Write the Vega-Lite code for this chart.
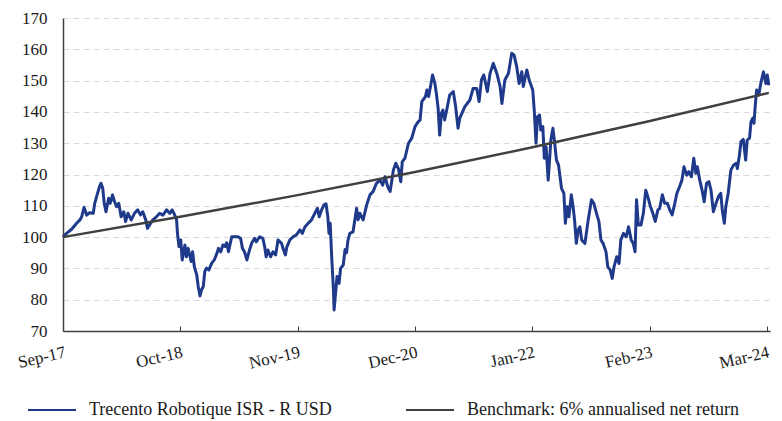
{
  "$schema": "https://vega.github.io/schema/vega-lite/v6.json",
  "width": 707,
  "height": 313,
  "autosize": {"type": "none"},
  "padding": {"left": 63, "top": 18, "right": 12, "bottom": 90},
  "background": "white",
  "config": {
    "view": {"stroke": null},
    "font": "Liberation Serif",
    "axis": {"labelFont": "Liberation Serif", "labelColor": "#1a1a1a", "labelFontSize": 17},
    "legend": {"labelFont": "Liberation Serif", "labelColor": "#1a1a1a", "labelFontSize": 18}
  },
  "datasets": {
    "fund": [
      {"date":"2017-09-01","value":100},{"date":"2017-09-13","value":101.2},{"date":"2017-09-30","value":102.5},
      {"date":"2017-10-17","value":104.4},{"date":"2017-10-28","value":105.5},{"date":"2017-11-03","value":106.5},
      {"date":"2017-11-11","value":109.5},{"date":"2017-11-20","value":107},{"date":"2017-11-30","value":107.8},
      {"date":"2017-12-12","value":107.6},{"date":"2017-12-17","value":110.8},{"date":"2017-12-25","value":113.5},
      {"date":"2018-01-02","value":116.1},{"date":"2018-01-07","value":117.2},{"date":"2018-01-13","value":115.6},
      {"date":"2018-01-18","value":110.8},{"date":"2018-01-24","value":108.1},{"date":"2018-02-02","value":112.4},
      {"date":"2018-02-07","value":110.8},{"date":"2018-02-15","value":113.5},{"date":"2018-02-22","value":111.3},
      {"date":"2018-03-01","value":109.7},{"date":"2018-03-08","value":110.8},{"date":"2018-03-16","value":106.5},
      {"date":"2018-03-25","value":108.1},{"date":"2018-03-31","value":105},{"date":"2018-04-08","value":107.6},
      {"date":"2018-04-19","value":105.5},{"date":"2018-04-30","value":107.6},{"date":"2018-05-11","value":108.7},
      {"date":"2018-05-20","value":107.1},{"date":"2018-05-28","value":108.1},{"date":"2018-06-07","value":105.5},
      {"date":"2018-06-13","value":102.8},{"date":"2018-06-20","value":103.9},{"date":"2018-07-01","value":105.5},
      {"date":"2018-07-13","value":106.5},{"date":"2018-07-24","value":107.6},{"date":"2018-08-04","value":107},
      {"date":"2018-08-16","value":108.7},{"date":"2018-08-27","value":107.6},{"date":"2018-09-04","value":108.7},
      {"date":"2018-09-13","value":107},{"date":"2018-09-19","value":105.5},{"date":"2018-09-22","value":101.2},
      {"date":"2018-09-27","value":97},{"date":"2018-10-03","value":99.1},{"date":"2018-10-08","value":92.7},
      {"date":"2018-10-17","value":97.5},{"date":"2018-10-22","value":93.7},{"date":"2018-10-28","value":96.4},
      {"date":"2018-11-07","value":92.2},{"date":"2018-11-12","value":95.3},{"date":"2018-11-18","value":90.5},
      {"date":"2018-11-26","value":87.9},{"date":"2018-12-01","value":84.2},{"date":"2018-12-07","value":81.2},
      {"date":"2018-12-12","value":83.1},{"date":"2018-12-18","value":84.2},{"date":"2018-12-23","value":89},
      {"date":"2018-12-29","value":90.1},{"date":"2019-01-06","value":89.5},{"date":"2019-01-15","value":91.6},
      {"date":"2019-01-24","value":92.7},{"date":"2019-02-02","value":94.8},{"date":"2019-02-07","value":96.4},
      {"date":"2019-02-15","value":95.3},{"date":"2019-02-22","value":97.5},{"date":"2019-03-01","value":97},
      {"date":"2019-03-07","value":98.2},{"date":"2019-03-13","value":95.3},{"date":"2019-03-19","value":98},
      {"date":"2019-03-24","value":100.1},{"date":"2019-04-03","value":100.1},{"date":"2019-04-14","value":100.1},
      {"date":"2019-04-23","value":99.6},{"date":"2019-04-29","value":96.4},{"date":"2019-05-06","value":95.3},
      {"date":"2019-05-14","value":92.7},{"date":"2019-05-23","value":95.9},{"date":"2019-05-30","value":98},
      {"date":"2019-06-09","value":99.6},{"date":"2019-06-15","value":98.5},{"date":"2019-06-26","value":100.1},
      {"date":"2019-07-07","value":99.6},{"date":"2019-07-13","value":96.9},{"date":"2019-07-18","value":93.7},
      {"date":"2019-07-24","value":95.9},{"date":"2019-08-02","value":93.7},{"date":"2019-08-10","value":95.3},
      {"date":"2019-08-19","value":94.3},{"date":"2019-08-27","value":99.1},{"date":"2019-09-08","value":98},
      {"date":"2019-09-13","value":96.4},{"date":"2019-09-21","value":94.3},{"date":"2019-09-26","value":96.9},
      {"date":"2019-10-06","value":99.1},{"date":"2019-10-17","value":100.1},{"date":"2019-10-28","value":100.7},
      {"date":"2019-11-09","value":102.3},{"date":"2019-11-17","value":101.2},{"date":"2019-11-26","value":103.3},
      {"date":"2019-12-07","value":104.4},{"date":"2019-12-18","value":105.5},{"date":"2019-12-29","value":107.6},
      {"date":"2020-01-07","value":109.2},{"date":"2020-01-13","value":106.5},{"date":"2020-01-21","value":108.7},
      {"date":"2020-01-29","value":110.3},{"date":"2020-02-05","value":110.6},{"date":"2020-02-11","value":106.5},
      {"date":"2020-02-15","value":101.2},{"date":"2020-02-19","value":104.4},{"date":"2020-02-24","value":93.7},
      {"date":"2020-03-01","value":83.1},{"date":"2020-03-03","value":76.7},{"date":"2020-03-09","value":83.1},
      {"date":"2020-03-13","value":87.4},{"date":"2020-03-20","value":85.2},{"date":"2020-03-25","value":90},
      {"date":"2020-04-03","value":91.1},{"date":"2020-04-09","value":96},{"date":"2020-04-14","value":95},
      {"date":"2020-04-19","value":99},{"date":"2020-04-25","value":101.2},{"date":"2020-05-06","value":101.7},
      {"date":"2020-05-18","value":109.2},{"date":"2020-05-23","value":105.5},{"date":"2020-05-29","value":107.6},
      {"date":"2020-06-09","value":105.5},{"date":"2020-06-21","value":110.3},{"date":"2020-07-02","value":113.5},
      {"date":"2020-07-13","value":114.6},{"date":"2020-07-24","value":117.2},{"date":"2020-08-05","value":118.2},
      {"date":"2020-08-14","value":116.6},{"date":"2020-08-22","value":119.3},{"date":"2020-08-31","value":116.1},
      {"date":"2020-09-08","value":114.6},{"date":"2020-09-14","value":118.2},{"date":"2020-09-19","value":121.4},
      {"date":"2020-09-27","value":123.6},{"date":"2020-10-06","value":121.9},{"date":"2020-10-14","value":117.7},
      {"date":"2020-10-19","value":124.1},{"date":"2020-10-28","value":125.2},{"date":"2020-11-09","value":130},
      {"date":"2020-11-20","value":131.6},{"date":"2020-12-01","value":135.3},{"date":"2020-12-12","value":136.9},
      {"date":"2020-12-18","value":137.4},{"date":"2020-12-24","value":143.3},{"date":"2021-01-05","value":144.9},
      {"date":"2021-01-10","value":147},{"date":"2021-01-16","value":144.9},{"date":"2021-01-24","value":149.1},
      {"date":"2021-01-29","value":151.8},{"date":"2021-02-06","value":149.1},{"date":"2021-02-11","value":145.9},
      {"date":"2021-02-17","value":141.1},{"date":"2021-02-22","value":132.6},{"date":"2021-02-28","value":139.6},
      {"date":"2021-03-05","value":140.6},{"date":"2021-03-11","value":137.4},{"date":"2021-03-28","value":145.4},
      {"date":"2021-04-09","value":146.5},{"date":"2021-04-17","value":141.7},{"date":"2021-04-25","value":134.8},
      {"date":"2021-05-01","value":138},{"date":"2021-05-18","value":141.7},{"date":"2021-06-04","value":143.8},
      {"date":"2021-06-15","value":147.5},{"date":"2021-06-27","value":147.5},{"date":"2021-07-05","value":143.3},
      {"date":"2021-07-13","value":150.2},{"date":"2021-07-21","value":151.8},{"date":"2021-08-02","value":146.5},
      {"date":"2021-08-11","value":152.3},{"date":"2021-08-22","value":155.5},{"date":"2021-09-03","value":152.3},
      {"date":"2021-09-14","value":148.1},{"date":"2021-09-20","value":142.7},{"date":"2021-09-30","value":150.2},
      {"date":"2021-10-12","value":152.3},{"date":"2021-10-23","value":158.7},{"date":"2021-10-31","value":158.2},
      {"date":"2021-11-09","value":154.4},{"date":"2021-11-17","value":149.1},{"date":"2021-11-26","value":152.8},
      {"date":"2021-12-01","value":148.1},{"date":"2021-12-13","value":153.4},{"date":"2021-12-21","value":150.2},
      {"date":"2022-01-02","value":147},{"date":"2022-01-07","value":140.6},{"date":"2022-01-13","value":130},
      {"date":"2022-01-18","value":138.5},{"date":"2022-01-25","value":139},{"date":"2022-01-29","value":134.2},
      {"date":"2022-02-05","value":135.3},{"date":"2022-02-10","value":125.2},{"date":"2022-02-16","value":128.9},
      {"date":"2022-02-23","value":118.2},{"date":"2022-02-27","value":123.6},{"date":"2022-03-04","value":131},
      {"date":"2022-03-11","value":134.8},{"date":"2022-03-17","value":130},{"date":"2022-03-23","value":124.6},
      {"date":"2022-03-30","value":123},{"date":"2022-04-09","value":115.6},{"date":"2022-04-17","value":114},
      {"date":"2022-04-22","value":104.4},{"date":"2022-04-28","value":109.7},{"date":"2022-05-04","value":106.5},
      {"date":"2022-05-12","value":113.5},{"date":"2022-05-18","value":109.7},{"date":"2022-05-23","value":105.5},
      {"date":"2022-05-29","value":98},{"date":"2022-06-04","value":102.3},{"date":"2022-06-10","value":103.3},
      {"date":"2022-06-16","value":99.1},{"date":"2022-06-27","value":98},{"date":"2022-07-08","value":105.5},
      {"date":"2022-07-19","value":111.9},{"date":"2022-07-27","value":110.8},{"date":"2022-08-05","value":107.6},
      {"date":"2022-08-13","value":105},{"date":"2022-08-20","value":99.1},{"date":"2022-08-27","value":98},
      {"date":"2022-09-06","value":95.3},{"date":"2022-09-12","value":90.5},{"date":"2022-09-20","value":89.5},
      {"date":"2022-09-27","value":86.8},{"date":"2022-10-03","value":90.5},{"date":"2022-10-12","value":93.7},
      {"date":"2022-10-20","value":91.6},{"date":"2022-10-26","value":99.1},{"date":"2022-11-04","value":101.2},
      {"date":"2022-11-13","value":100.1},{"date":"2022-11-21","value":103.3},{"date":"2022-11-30","value":99.1},
      {"date":"2022-12-07","value":98},{"date":"2022-12-13","value":95.3},{"date":"2022-12-18","value":111.9},
      {"date":"2022-12-24","value":103.9},{"date":"2023-01-02","value":103.9},{"date":"2023-01-10","value":107.6},
      {"date":"2023-01-18","value":115},{"date":"2023-01-25","value":112.9},{"date":"2023-02-03","value":109.7},
      {"date":"2023-02-11","value":107.6},{"date":"2023-02-19","value":105},{"date":"2023-02-28","value":108.7},
      {"date":"2023-03-06","value":109.2},{"date":"2023-03-15","value":113.5},{"date":"2023-03-23","value":110.8},
      {"date":"2023-04-01","value":110.8},{"date":"2023-04-09","value":108.7},{"date":"2023-04-17","value":107.1},
      {"date":"2023-04-26","value":110.8},{"date":"2023-05-03","value":114},{"date":"2023-05-12","value":116.1},
      {"date":"2023-05-20","value":118.2},{"date":"2023-05-27","value":122.5},{"date":"2023-06-05","value":119.8},
      {"date":"2023-06-12","value":120.9},{"date":"2023-06-21","value":119.3},{"date":"2023-06-29","value":125.2},
      {"date":"2023-07-06","value":120.4},{"date":"2023-07-11","value":122.5},{"date":"2023-07-19","value":118.2},
      {"date":"2023-07-27","value":115},{"date":"2023-08-03","value":111.3},{"date":"2023-08-11","value":117.2},
      {"date":"2023-08-19","value":117.7},{"date":"2023-08-26","value":115},{"date":"2023-09-03","value":108.1},
      {"date":"2023-09-12","value":110.8},{"date":"2023-09-20","value":112.9},{"date":"2023-09-28","value":114},
      {"date":"2023-10-03","value":108.7},{"date":"2023-10-10","value":104.4},{"date":"2023-10-15","value":109.7},
      {"date":"2023-10-23","value":114},{"date":"2023-11-01","value":121.4},{"date":"2023-11-10","value":123},
      {"date":"2023-11-19","value":123.6},{"date":"2023-11-23","value":121.9},{"date":"2023-11-30","value":126.2},
      {"date":"2023-12-05","value":130.5},{"date":"2023-12-13","value":131.2},{"date":"2023-12-21","value":124.6},
      {"date":"2023-12-26","value":131},{"date":"2024-01-03","value":131.6},{"date":"2024-01-08","value":136.9},
      {"date":"2024-01-14","value":138},{"date":"2024-01-18","value":136.4},{"date":"2024-01-22","value":141.7},
      {"date":"2024-01-27","value":147},{"date":"2024-02-03","value":145.4},{"date":"2024-02-11","value":149.6},
      {"date":"2024-02-19","value":152.8},{"date":"2024-02-27","value":149.1},{"date":"2024-03-03","value":151.8},
      {"date":"2024-03-08","value":148.5}
    ],
    "bench": [
      {"date":"2017-09-01","value":100},{"date":"2018-10-01","value":106.5},{"date":"2019-11-01","value":113.4},
      {"date":"2020-12-01","value":120.8},{"date":"2022-01-01","value":128.7},{"date":"2023-02-01","value":137.1},
      {"date":"2024-03-08","value":146.1}
    ]
  },
  "encoding": {
    "x": {
      "field": "date", "type": "temporal",
      "scale": {"domain": [{"year": 2017, "month": 9, "date": 1}, {"year": 2024, "month": 3, "date": 12}]},
      "axis": {
        "title": null,
        "values": [
          {"year": 2017, "month": 9, "date": 1}, {"year": 2018, "month": 10, "date": 1},
          {"year": 2019, "month": 11, "date": 1}, {"year": 2020, "month": 12, "date": 1},
          {"year": 2022, "month": 1, "date": 1}, {"year": 2023, "month": 2, "date": 1},
          {"year": 2024, "month": 3, "date": 1}
        ],
        "format": "%b-%y",
        "grid": false,
        "domainColor": "#404040",
        "domainWidth": 1.5,
        "tickColor": "#404040",
        "tickSize": -5,
        "labelAngle": -13,
        "labelAlign": "right",
        "labelBaseline": "top",
        "labelPadding": 18,
        "labelOverlap": false,
        "labelFlush": false
      }
    },
    "y": {
      "field": "value", "type": "quantitative",
      "scale": {"domain": [70, 170], "nice": false, "zero": false},
      "axis": {
        "title": null,
        "values": [70, 80, 90, 100, 110, 120, 130, 140, 150, 160, 170],
        "grid": true,
        "gridColor": "#d9d9d9",
        "gridDash": [6, 4],
        "gridWidth": 1,
        "ticks": false,
        "domainColor": "#404040",
        "domainWidth": 1.5,
        "labelPadding": 16,
        "labelOverlap": false,
        "labelFlush": false
      }
    }
  },
  "layer": [
    {
      "data": {"name": "fund"},
      "mark": {"type": "line", "strokeWidth": 3, "strokeJoin": "round"},
      "encoding": {
        "color": {
          "datum": "Trecento Robotique ISR - R USD",
          "type": "nominal",
          "scale": {
            "domain": ["Trecento Robotique ISR - R USD", "Benchmark: 6% annualised net return"],
            "range": ["#1f3a8a", "#404040"]
          },
          "legend": {
            "title": null,
            "orient": "none",
            "legendX": -36,
            "legendY": 367,
            "direction": "horizontal",
            "symbolType": "stroke",
            "symbolSize": 2304,
            "symbolStrokeWidth": 2,
            "labelOffset": 12,
            "columnPadding": 70,
            "labelLimit": 400
          }
        }
      }
    },
    {
      "data": {"name": "bench"},
      "mark": {"type": "line", "strokeWidth": 2.4},
      "encoding": {
        "color": {"datum": "Benchmark: 6% annualised net return", "type": "nominal"}
      }
    }
  ]
}
